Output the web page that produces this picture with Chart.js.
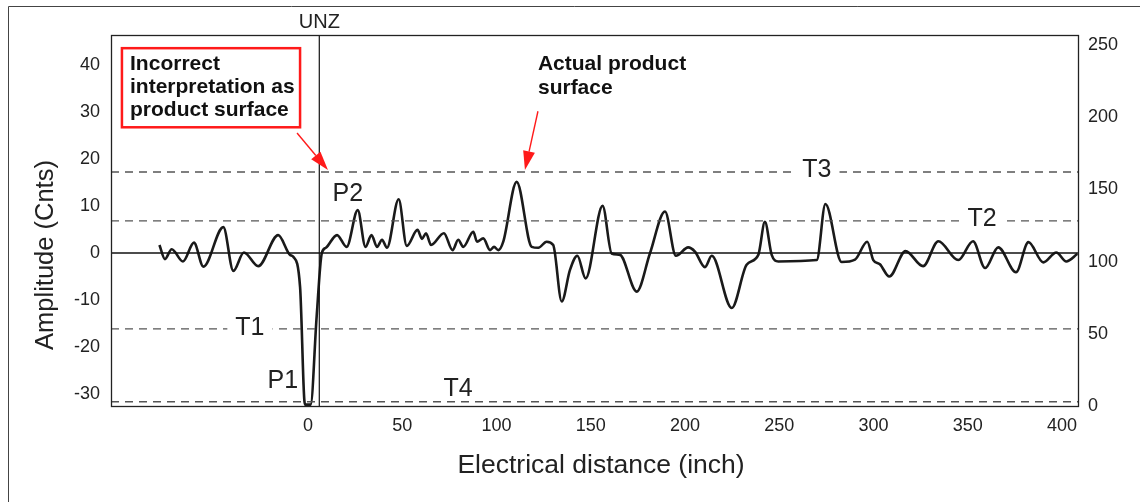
<!DOCTYPE html>
<html>
<head>
<meta charset="utf-8">
<script src="https://cdn.jsdelivr.net/npm/chart.js@4.4.1/dist/chart.umd.min.js"></script>
<style>
html, body { margin: 0; padding: 0; background: #fff; }
</style>
</head>
<body>
<canvas id="myChart" width="1140" height="502"></canvas>
<script>
/* Data */
const distance = [-78.8, -75.9, -72.3, -66.3, -60.5, -55.5, -44.9, -39.6, -34.0, -26.4,
    -15.8, -9.5, -7.8, -4.2, -1.6, 1.4, 4.6, 7.3, 9.5, 15.4,
    20.5, 26.4, 30.5, 33.7, 36.6, 39.3, 41.9, 48.1, 52.4, 58.1,
    60.5, 62.6, 65.3, 72.1, 76.7, 79.7, 82.4, 87.7, 89.7, 93.0,
    96.6, 98.7, 101.0, 103.6, 110.7, 118.7, 122.2, 126.6, 130.1, 134.6,
    139.0, 142.9, 147.3, 156.3, 161.1, 165.5, 174.4, 181.4, 189.4, 195.2,
    201.7, 205.3, 210.6, 214.2, 224.8, 232.7, 238.9, 242.4, 246.0, 249.5,
    269.9, 274.5, 283.1, 290.2, 296.7, 299.9, 303.4, 308.4, 317.0, 326.3,
    334.4, 345.0, 352.8, 359.2, 366.2, 375.6, 382.2, 390.1, 397.0, 402.3,
    408.2];
const amplitude = [1.7, -1.3, 0.8, -1.8, 2.2, -2.9, 5.5, -3.8, 0.1, -2.8,
    3.8, -0.4, -0.8, -7.2, -32.2, -32.2, -13.5, -0.1, 1.1, 3.8,
    1.3, 9.1, 1.3, 3.8, 1.3, 2.8, 1.1, 11.4, 1.5, 4.9,
    3.0, 4.2, 1.7, 4.2, 0.6, 2.8, 1.3, 4.5, 2.4, 3.1,
    0.6, 1.3, 0.6, 2.4, 15.1, 1.3, 1.1, 2.4, 1.7, -10.3,
    -3.6, -0.6, -5.4, 10.0, -0.1, -0.4, -8.2, -0.1, 8.8, -0.6,
    1.2, 0.3, -3.0, -0.6, -11.7, -2.5, -0.4, 6.6, -0.4, -1.8,
    -1.5, 10.4, -1.9, -1.4, 2.4, -1.5, -2.4, -5.0, 0.4, -2.8,
    2.5, -1.5, 2.5, -3.2, 1.2, -4.1, 2.3, -2.0, 0.1, -1.8,
    -0.2];

/* Threshold lines */
const thresholdNames = ['T3', 'T2', 'T1', 'T4'];
const thresholdValues = [17.2, 6.8, -16.1, -31.6];
const unzDistance = [6];

/* Axes */
const xTicks = [0, 50, 100, 150, 200, 250, 300, 350, 400];
const leftTicks = [-30, -20, -10, 0, 10, 20, 30, 40];
const rightTicks = [0, 50, 100, 150, 200, 250];
const xRange = [-104.5, 408.5];
const leftRange = [-32.5, 46.3];
const rightRange = [0, 257];

const FONT = '"Liberation Sans", Arial, Helvetica, sans-serif';

var trace = distance.map(function (d, i) { return { x: d, y: amplitude[i] }; });

var datasets = [];
thresholdValues.forEach(function (v) {
    datasets.push({
        data: [{ x: xRange[0], y: v }, { x: xRange[1], y: v }],
        borderColor: '#555',
        borderWidth: 1.3,
        borderDash: [8, 6],
        pointRadius: 0
    });
});
datasets.push({
    data: [{ x: xRange[0], y: 0 }, { x: xRange[1], y: 0 }],
    borderColor: '#111',
    borderWidth: 1.3,
    pointRadius: 0
});
datasets.push({
    data: [{ x: unzDistance[0], y: leftRange[0] }, { x: unzDistance[0], y: leftRange[1] }],
    borderColor: '#111',
    borderWidth: 1.2,
    pointRadius: 0
});
datasets.push({
    data: trace,
    borderColor: '#1a1a1a',
    borderWidth: 2.6,
    pointRadius: 0,
    cubicInterpolationMode: 'monotone'
});

function arrow(ctx, x1, y1, x2, y2) {
    var ang = Math.atan2(y2 - y1, x2 - x1);
    var len = 19, half = 6;
    var bx = x2 - len * Math.cos(ang), by = y2 - len * Math.sin(ang);
    ctx.strokeStyle = '#ff1a1a';
    ctx.fillStyle = '#ff1a1a';
    ctx.lineWidth = 1.4;
    ctx.beginPath();
    ctx.moveTo(x1, y1);
    ctx.lineTo(bx, by);
    ctx.stroke();
    ctx.beginPath();
    ctx.moveTo(x2, y2);
    ctx.lineTo(bx + half * Math.sin(ang), by - half * Math.cos(ang));
    ctx.lineTo(bx - half * Math.sin(ang), by + half * Math.cos(ang));
    ctx.closePath();
    ctx.fill();
}

const overlay = {
    id: 'overlay',
    afterDatasetsDraw(chart) {
        const ctx = chart.ctx;
        const sx = chart.scales.x, sy = chart.scales.y;
        const px = function (v) { return sx.getPixelForValue(v); };
        const py = function (v) { return sy.getPixelForValue(v); };
        const a = chart.chartArea;
        ctx.save();

        // threshold / peak labels
        ctx.font = '25px ' + FONT;
        ctx.textAlign = 'center';
        ctx.textBaseline = 'middle';
        var labels = [
            ['T3', 270.0, 17.6, true], ['T2', 357.6, 7.2, true], ['T1', -30.8, -15.9, true],
            ['T4', 79.6, -28.9, false], ['P1', -13.3, -27.2, false], ['P2', 21.1, 12.6, false]
        ];
        labels.forEach(function (l) {
            var x = px(l[1]), y = py(l[2]);
            if (l[3]) {
                var w = ctx.measureText(l[0]).width;
                ctx.fillStyle = '#fff';
                ctx.fillRect(x - w / 2 - 8, y - 8, w + 16, 16);
            }
            ctx.fillStyle = '#222';
            ctx.fillText(l[0], x, y);
        });

        // red box annotation
        ctx.strokeStyle = '#ff1a1a';
        ctx.lineWidth = 2.5;
        var bx1 = px(-98.7), bx2 = px(-4.2), by1 = py(43.5), by2 = py(26.7);
        ctx.strokeRect(bx1, by1, bx2 - bx1, by2 - by1);
        ctx.fillStyle = '#111';
        ctx.font = 'bold 21px ' + FONT;
        ctx.textAlign = 'left';
        ctx.fillText('Incorrect', px(-94.4), py(40.1));
        ctx.fillText('interpretation as', px(-94.4), py(35.2));
        ctx.fillText('product surface', px(-94.4), py(30.3));
        ctx.fillText('Actual product', px(122.0), py(40.1));
        ctx.fillText('surface', px(122.0), py(35.0));

        arrow(ctx, px(-5.8), py(25.5), px(10.6), py(17.6));
        arrow(ctx, px(122.0), py(30.1), px(115.1), py(17.6));

        // UNZ label above plot
        ctx.fillStyle = '#222';
        ctx.font = '20px ' + FONT;
        ctx.textAlign = 'center';
        ctx.fillText('UNZ', px(unzDistance[0]), a.top - 13);
        ctx.restore();
    },
    afterDraw(chart) {
        const ctx = chart.ctx;
        const a = chart.chartArea;
        ctx.save();
        // plot frame
        ctx.strokeStyle = '#222';
        ctx.lineWidth = 1.3;
        ctx.strokeRect(a.left + 0.5, a.top + 0.5, a.right - a.left, a.bottom - a.top);
        // outer frame
        ctx.strokeStyle = '#444';
        ctx.lineWidth = 1;
        ctx.beginPath();
        ctx.moveTo(8.5, 502);
        ctx.lineTo(8.5, 6.5);
        ctx.lineTo(1140, 6.5);
        ctx.stroke();
        // axis titles
        ctx.fillStyle = '#222';
        ctx.font = '26.5px ' + FONT;
        ctx.textAlign = 'center';
        ctx.textBaseline = 'middle';
        ctx.fillText('Electrical distance (inch)', 601, 466);
        ctx.font = '25.5px ' + FONT;
        ctx.translate(46, 255);
        ctx.rotate(-Math.PI / 2);
        ctx.fillText('Amplitude (Cnts)', 0, 0);
        ctx.restore();
    }
};

new Chart(document.getElementById('myChart'), {
    type: 'line',
    data: { datasets: datasets },
    options: {
        responsive: false,
        animation: false,
        layout: { padding: { top: 35, left: 0, right: 0, bottom: 0 } },
        plugins: { legend: { display: false }, tooltip: { enabled: false } },
        scales: {
            x: {
                type: 'linear',
                min: xRange[0],
                max: xRange[1],
                grid: { display: false, drawTicks: false },
                border: { display: false },
                ticks: { font: { family: FONT, size: 18 }, color: '#222', padding: 9 },
                afterBuildTicks: function (s) { s.ticks = xTicks.map(function (v) { return { value: v }; }); },
                afterFit: function (s) { s.height = 96; }
            },
            y: {
                type: 'linear',
                position: 'left',
                min: leftRange[0],
                max: leftRange[1],
                grid: { display: false, drawTicks: false },
                border: { display: false },
                ticks: { font: { family: FONT, size: 18 }, color: '#222', padding: 11 },
                afterBuildTicks: function (s) { s.ticks = leftTicks.map(function (v) { return { value: v }; }); },
                afterFit: function (s) { s.width = 111; }
            },
            y2: {
                type: 'linear',
                position: 'right',
                min: rightRange[0],
                max: rightRange[1],
                grid: { display: false, drawTicks: false },
                border: { display: false },
                ticks: { font: { family: FONT, size: 18 }, color: '#222', padding: 10 },
                afterBuildTicks: function (s) { s.ticks = rightTicks.map(function (v) { return { value: v }; }); },
                afterFit: function (s) { s.width = 62; }
            }
        }
    },
    plugins: [overlay]
});
</script>
</body>
</html>
